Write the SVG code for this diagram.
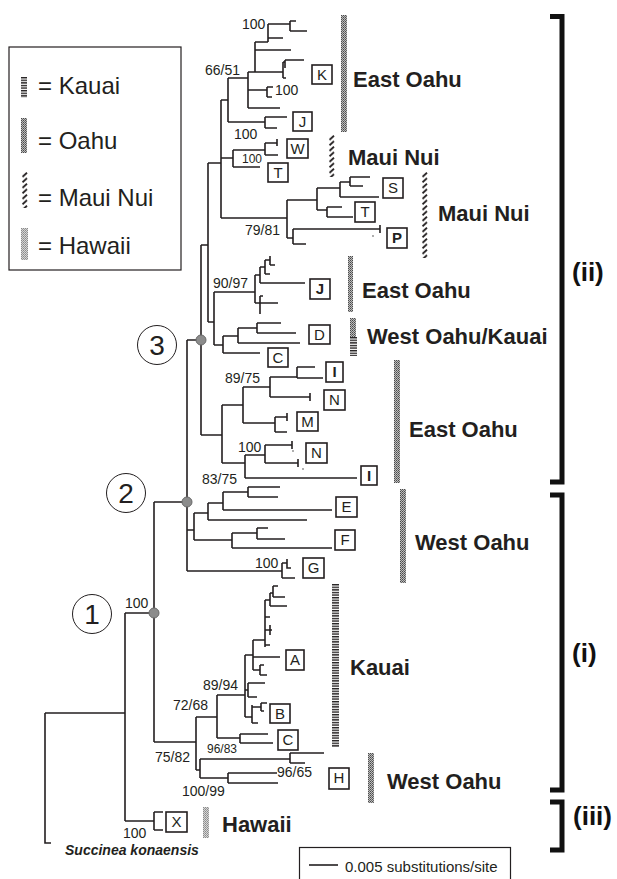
<svg xmlns="http://www.w3.org/2000/svg" width="617" height="879" viewBox="0 0 617 879">
<defs>
<pattern id="oahu" patternUnits="userSpaceOnUse" width="2" height="2"><rect width="2" height="2" fill="#bdbdbd"/><rect width="1" height="1" fill="#4a4a4a"/><rect x="1" y="1" width="1" height="1" fill="#6a6a6a"/></pattern>
<pattern id="hawaii" patternUnits="userSpaceOnUse" width="2" height="2"><rect width="2" height="2" fill="#d6d6d6"/><rect width="1" height="1" fill="#8a8a8a"/><rect x="1" y="1" width="1" height="1" fill="#9a9a9a"/></pattern>
<pattern id="kauai" patternUnits="userSpaceOnUse" width="8" height="2.6"><rect width="8" height="1.4" fill="#231f20"/></pattern>
<pattern id="maui" patternUnits="userSpaceOnUse" width="8" height="5.5"><path d="M1.5 4.8 L6 0.7" stroke="#231f20" stroke-width="1.8" stroke-linecap="butt"/></pattern>
<style>
.br{fill:none;stroke:#231f20;stroke-width:1.6}
.bx{fill:#fff;stroke:#231f20;stroke-width:1.6}
.bl{font-family:"Liberation Sans",Arial,sans-serif;font-size:15px;text-anchor:middle;fill:#231f20}
.bb{font-weight:bold}
.sp{font-family:"Liberation Sans",Arial,sans-serif;font-size:14px;fill:#231f20}
.sm{font-size:12px}
.rg{font-family:"Liberation Sans",Arial,sans-serif;font-size:22px;font-weight:bold;fill:#231f20}
.cl{font-family:"Liberation Sans",Arial,sans-serif;font-size:26px;font-weight:bold;fill:#111}
.lg{font-family:"Liberation Sans",Arial,sans-serif;font-size:24px;fill:#231f20}
.nc{fill:#fff;stroke:#231f20;stroke-width:1}
.nt{font-family:"Liberation Sans",Arial,sans-serif;font-size:28px;text-anchor:middle;fill:#231f20}
.dot{fill:#8c8c8c;stroke:#6a6a6a;stroke-width:1}
.brk{fill:none;stroke:#111;stroke-width:5;stroke-linejoin:miter}
.oa{fill:url(#oahu)}
.ka{fill:url(#kauai)}
.ma{fill:url(#maui)}
.ha{fill:url(#hawaii)}
</style>
</defs>
<rect width="617" height="879" fill="#fff"/>

<g id="legend">
<rect x="9" y="47" width="172" height="223" fill="none" stroke="#231f20" stroke-width="1.2"/>
<rect class="ka" transform="translate(21,77)" width="6" height="21"/>
<text class="lg" x="38" y="94">= Kauai</text>
<rect class="oa" transform="translate(21,118)" width="6" height="35"/>
<text class="lg" x="38" y="149">= Oahu</text>
<rect class="ma" transform="translate(21,172)" width="8" height="36"/>
<text class="lg" x="38" y="206">= Maui Nui</text>
<rect class="ha" transform="translate(21,228)" width="7" height="32"/>
<text class="lg" x="38" y="254">= Hawaii</text>
</g>

<g id="connectors">
<path class="br" d="M45 713 V843 H51 M45 713 H125 M125 613 V821 M125 613 H154 M125 821 H154 M154 812 V830 M154 812 H163 M154 830 H163
M154 502 V742 M154 502 H187 M154 742 H196
M187 340 V571 M187 340 H201 M187 530 H194 M187 571 H282
M282 563 V578 M282 563 H287 M287 559 V568 H291 M282 578 H295
M194 513 V540 M194 513 H208 M208 503 V520 M208 503 H223 M208 520 H307 M223 492 V510 M223 492 H248 M223 510 H332 M248 487 V497 M248 487 H280 M248 497 H278 M194 540 H232 M232 533 V548 M232 533 H257 M257 528 V539 M257 528 H268 M257 539 H285 M232 548 H332
M201 245 V435 M201 245 H208 M201 435 H222
M208 163 V322 M208 163 H221 M208 322 H214
M214 292 V345 M214 292 H255 M214 345 H223
M255 275 V303 M255 275 H260 M260 267 V283 M260 267 H265 M265 260 V274 M265 274 H270 M265 260 H270 M270 256 V265 M270 265 H275 M260 283 H305 M255 303 H278 M260 296 V314 M260 296 H263
M223 336 V353 M223 336 H238 M238 328 V343 M238 328 H257 M257 323 V333 M257 323 H281 M257 333 H296 M238 343 H300 M223 353 H260
M222 405 V463 M222 405 H243 M243 387 V423 M243 387 H270 M270 377 V397 M270 377 H297 M297 367 V378 M297 367 H315 M297 378 H323 M270 397 H310 M310 393 V401 M243 423 H275 M275 417 V432 M275 417 H287 M287 413 V421 M275 432 H287 M222 463 H245 M245 455 V478 M245 455 H265 M265 445 V463 M265 445 H292 M292 441 V449 M265 463 H298 M298 459 V467 M245 478 H357
M221 100 V218 M221 100 H228 M221 158 H233 M221 218 H287
M228 78 V122 M228 78 H248 M228 122 H265 M265 117 V128 M265 117 H287 M265 128 H277
M248 72 V108 M248 72 H255 M248 90 H267 M267 87 V97 M267 87 H273 M267 97 H272 M248 108 H280
M255 42 V72 M255 42 H268 M255 50 H291 M255 72 H283 M268 24 V42 M268 24 H290 M268 38 H283 M290 21 V31 M290 21 H296 M290 31 H307
M283 62 V78 M283 62 H285 M285 60 V68 M285 60 H304 M283 78 H286
M233 150 V167 M233 150 H265 M265 143 V155 M265 143 H277 M277 139 V146 M265 155 H278 M233 167 H260
M287 200 V238 M287 200 H317 M287 238 H293 M293 229 V244 M293 229 H380 M380 225 V233 M293 244 H306 M317 188 V210 M317 188 H340 M340 182 V197 M340 182 H350 M350 177 V186 M350 177 H370 M350 186 H363 M340 197 H379 M317 210 H327 M327 207 V217 M327 207 H342 M327 217 H353
M196 717 V770 M196 717 H217 M196 770 H200 M217 695 V738 M217 695 H245 M217 738 H240 M240 734 V743 M240 734 H268 M240 743 H273
M200 759 V778 M200 759 H290 M290 753 V763 M290 753 H324 M290 763 H305 M200 778 H228 M228 773 V783 M228 773 H277 M228 783 H278
M245 655 V717 M245 655 H253 M253 640 V670 M253 640 H265 M253 657 H280 M253 670 H260 M260 665 V675 M260 665 H264 M260 675 H267
M265 600 V647 M265 600 H270 M270 593 V606 M270 593 H273 M273 586 V597 M273 586 H278 M273 597 H285 M270 606 H287 M265 617 H270 M265 630 H272 M270 625 V635 M265 645 H270
M245 690 H248 M248 683 V697 M248 683 H265 M248 697 H257 M245 717 H252 M252 705 V723 M252 707 H261 M261 703 V711 M261 703 H267 M261 711 H264 M252 723 H258"/>
<circle cx="373" cy="236" r="0.9" fill="#888"/>
<circle cx="293" cy="451" r="0.9" fill="#888"/>
<circle cx="303" cy="469" r="0.9" fill="#888"/>
</g>

<g id="nodes">
<circle class="dot" cx="201" cy="340" r="5"/>
<circle class="dot" cx="187" cy="502" r="5"/>
<circle class="dot" cx="154" cy="613" r="5"/>
<g id="n1"><circle class="nc" cx="92" cy="614" r="19.5"/><text class="nt" x="92" y="624">1</text></g>
<g id="n2"><circle class="nc" cx="126" cy="493" r="19.5"/><text class="nt" x="126" y="503">2</text></g>
<g id="n3"><circle class="nc" cx="157" cy="345" r="19.5"/><text class="nt" x="157" y="355">3</text></g>
</g>

<g id="support">
<text class="sp" x="242" y="29">100</text>
<text class="sp" x="205" y="75">66/51</text>
<text class="sp" x="275" y="95">100</text>
<text class="sp" x="234" y="139">100</text>
<text class="sp sm" x="242" y="163">100</text>
<text class="sp" x="245" y="235">79/81</text>
<text class="sp" x="213" y="288">90/97</text>
<text class="sp" x="225" y="383">89/75</text>
<text class="sp" x="238" y="452">100</text>
<text class="sp" x="202" y="484">83/75</text>
<text class="sp" x="255" y="568">100</text>
<text class="sp" x="125" y="608">100</text>
<text class="sp" x="203" y="690">89/94</text>
<text class="sp" x="173" y="710">72/68</text>
<text class="sp sm" x="207" y="753">96/83</text>
<text class="sp" x="155" y="762">75/82</text>
<text class="sp" x="277" y="777">96/65</text>
<text class="sp" x="182" y="796">100/99</text>
<text class="sp" x="123" y="838">100</text>
<text x="65" y="855" font-family="'Liberation Sans',Arial,sans-serif" font-size="14" font-weight="bold" font-style="italic" fill="#231f20">Succinea konaensis</text>
</g>

<g id="tips">
<g id="tK"><rect class="bx" x="312" y="65" width="20" height="19"/><text class="bl" x="322" y="80">K</text></g>
<g id="tJ1"><rect class="bx" x="293" y="112" width="19" height="19"/><text class="bl" x="302.5" y="127">J</text></g>
<g id="tW"><rect class="bx" x="287" y="139" width="21" height="19"/><text class="bl" x="297.5" y="154">W</text></g>
<g id="tT1"><rect class="bx" x="268" y="163" width="20" height="19"/><text class="bl" x="278" y="178">T</text></g>
<g id="tS"><rect class="bx" x="383" y="178" width="20" height="20"/><text class="bl" x="393" y="193">S</text></g>
<g id="tT2"><rect class="bx" x="355" y="202" width="20" height="20"/><text class="bl" x="365" y="217">T</text></g>
<g id="tP"><rect class="bx" x="387" y="228" width="20" height="20"/><text class="bl bb" x="397" y="243">P</text></g>
<g id="tJ2"><rect class="bx" x="310" y="279" width="20" height="20"/><text class="bl bb" x="320" y="294">J</text></g>
<g id="tD"><rect class="bx" x="309" y="325" width="21" height="19"/><text class="bl" x="319.5" y="340">D</text></g>
<g id="tC1"><rect class="bx" x="268" y="348" width="20" height="19"/><text class="bl" x="278" y="363">C</text></g>
<g id="tI1"><rect class="bx" x="326" y="362" width="17" height="20"/><text class="bl bb" x="334.5" y="377">I</text></g>
<g id="tN1"><rect class="bx" x="324" y="390" width="21" height="20"/><text class="bl" x="334.5" y="405">N</text></g>
<g id="tM"><rect class="bx" x="297" y="412" width="21" height="19"/><text class="bl" x="307.5" y="427">M</text></g>
<g id="tN2"><rect class="bx" x="306" y="443" width="21" height="20"/><text class="bl" x="316.5" y="458">N</text></g>
<g id="tI2"><rect class="bx" x="361" y="466" width="16" height="19"/><text class="bl bb" x="369" y="481">I</text></g>
<g id="tE"><rect class="bx" x="336" y="497" width="21" height="20"/><text class="bl" x="346.5" y="512">E</text></g>
<g id="tF"><rect class="bx" x="335" y="530" width="20" height="20"/><text class="bl" x="345" y="545">F</text></g>
<g id="tG"><rect class="bx" x="303" y="558" width="21" height="20"/><text class="bl" x="313.5" y="573">G</text></g>
<g id="tA"><rect class="bx" x="286" y="650" width="18" height="20"/><text class="bl" x="295" y="665">A</text></g>
<g id="tB"><rect class="bx" x="270" y="704" width="20" height="19"/><text class="bl" x="280" y="719">B</text></g>
<g id="tC2"><rect class="bx" x="278" y="730" width="20" height="20"/><text class="bl" x="288" y="745">C</text></g>
<g id="tH"><rect class="bx" x="329" y="768" width="20" height="21"/><text class="bl" x="339" y="783">H</text></g>
<g id="tX"><rect class="bx" x="166" y="812" width="21" height="20"/><text class="bl" x="176.5" y="827">X</text></g>
</g>

<g id="regions">
<rect class="oa" transform="translate(341,15)" width="6" height="117"/>
<text class="rg" x="353" y="87">East Oahu</text>
<rect class="ma" transform="translate(328,135)" width="8" height="42"/>
<text class="rg" x="348" y="165">Maui Nui</text>
<rect class="ma" transform="translate(421,172)" width="8" height="86"/>
<text class="rg" x="438" y="221">Maui Nui</text>
<rect class="oa" transform="translate(348,256)" width="5" height="56"/>
<text class="rg" x="362" y="298">East Oahu</text>
<rect class="oa" transform="translate(350,318)" width="6" height="19"/>
<rect class="ka" transform="translate(350,337)" width="7" height="19"/>
<text class="rg" x="367" y="344">West Oahu/Kauai</text>
<rect class="oa" transform="translate(394,360)" width="6" height="123"/>
<text class="rg" x="409" y="437">East Oahu</text>
<rect class="oa" transform="translate(400,489)" width="6" height="94"/>
<text class="rg" x="415" y="550">West Oahu</text>
<rect class="ka" transform="translate(332,584)" width="7" height="163"/>
<text class="rg" x="350" y="675">Kauai</text>
<rect class="oa" transform="translate(368,753)" width="6" height="50"/>
<text class="rg" x="387" y="789">West Oahu</text>
<rect class="ha" transform="translate(203,807)" width="6" height="31"/>
<text class="rg" x="222" y="832">Hawaii</text>
</g>

<g id="clades">
<path class="brk" d="M550 16.5 H562 V482 H550"/>
<text class="cl" x="572" y="281">(ii)</text>
<path class="brk" d="M550 495 H562 V790 H550"/>
<text class="cl" x="572" y="662">(i)</text>
<path class="brk" d="M550 802 H562 V850 H550"/>
<text class="cl" x="573" y="825">(iii)</text>
</g>

<g id="scale">
<rect x="299.5" y="847.5" width="211" height="40" fill="none" stroke="#231f20" stroke-width="1.2"/>
<line x1="309" y1="865" x2="338" y2="865" stroke="#231f20" stroke-width="1.6"/>
<text x="345" y="872" font-family="'Liberation Sans',Arial,sans-serif" font-size="15" fill="#231f20">0.005 substitutions/site</text>
</g>
</svg>
